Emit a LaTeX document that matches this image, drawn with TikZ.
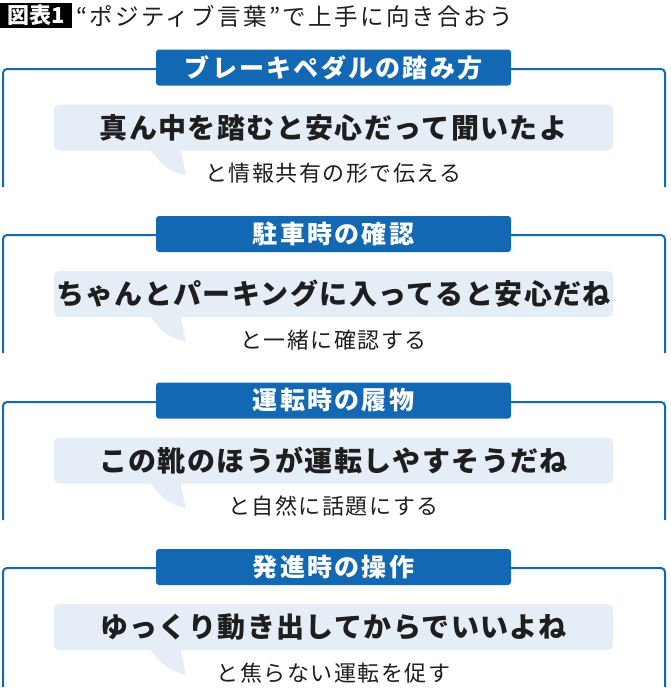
\documentclass[tikz,border=0pt]{standalone}
\usepackage{fontspec}
\setmainfont{Noto Sans CJK JP}
\usetikzlibrary{calc}
\definecolor{hdblue}{RGB}{18,104,178}
\definecolor{bbfill}{RGB}{229,237,246}
\definecolor{ink}{RGB}{30,30,30}
\tikzset{
  hdbox/.style={fill=hdblue, text=white, rounded corners=3pt, inner sep=0pt,
    minimum width=355pt, minimum height=36pt,
    font=\fontsize{25}{25}\selectfont\bfseries\addfontfeature{LetterSpace=9}},
  bubble/.style={fill=bbfill, text=ink, rounded corners=5pt, inner sep=0pt,
    minimum width=559pt, minimum height=46pt,
    font=\fontsize{28}{28}\selectfont\bfseries\addfontfeature{LetterSpace=5}},
  note/.style={text=ink, inner sep=0pt,
    font=\fontsize{22}{22}\selectfont\addfontfeature{LetterSpace=7}},
  brk/.style={draw=hdblue, line width=2pt, rounded corners=4pt},
  tail/.style={fill=bbfill}
}
\begin{document}
\begin{tikzpicture}[x=1pt,y=-1pt]
  \useasboundingbox (0,0) rectangle (670,699);
  \node[fill=black, text=white, inner sep=0pt, minimum width=72pt, minimum height=25pt,
    font=\fontsize{22}{22}\selectfont\bfseries] (fig) at (36,15.5) {図表1};
  \node[anchor=west, inner sep=0pt, text=ink,
    font=\fontsize{23.5}{23.5}\selectfont\addfontfeature{LetterSpace=10}] (ttl) at (76,16)
    {“ポジティブ言葉”で上手に向き合おう};

  \coordinate (bl1) at (3,187);
  \coordinate (br1) at (665,187);
  \draw[brk] (333.5,69) -| (bl1);
  \draw[brk] (333.5,69) -| (br1);
  \node[hdbox] (hd1) at (333.5,67.5) {ブレーキペダルの踏み方};
  \node[bubble] (bb1) at (333.5,127.5) {真ん中を踏むと安心だって聞いたよ};
  \fill[tail] ($(bb1.south west)+(96,-1)$) .. controls ($(bb1.south west)+(112,18)$)
    .. ($(bb1.south west)+(132,25)$) -- ($(bb1.south west)+(127,-1)$) -- cycle;
  \node[note] (nt1) at (333.5,173) {と情報共有の形で伝える};

  \coordinate (bl2) at (3,353);
  \coordinate (br2) at (665,353);
  \draw[brk] (333.5,235) -| (bl2);
  \draw[brk] (333.5,235) -| (br2);
  \node[hdbox] (hd2) at (333.5,234) {駐車時の確認};
  \node[bubble] (bb2) at (333.5,294) {ちゃんとパーキングに入ってると安心だね};
  \fill[tail] ($(bb2.south west)+(96,-1)$) .. controls ($(bb2.south west)+(112,18)$)
    .. ($(bb2.south west)+(132,25)$) -- ($(bb2.south west)+(127,-1)$) -- cycle;
  \node[note] (nt2) at (333.5,340) {と一緒に確認する};

  \coordinate (bl3) at (3,520);
  \coordinate (br3) at (665,520);
  \draw[brk] (333.5,402) -| (bl3);
  \draw[brk] (333.5,402) -| (br3);
  \node[hdbox] (hd3) at (333.5,400.5) {運転時の履物};
  \node[bubble] (bb3) at (333.5,460.5) {この靴のほうが運転しやすそうだね};
  \fill[tail] ($(bb3.south west)+(96,-1)$) .. controls ($(bb3.south west)+(112,18)$)
    .. ($(bb3.south west)+(132,25)$) -- ($(bb3.south west)+(127,-1)$) -- cycle;
  \node[note] (nt3) at (333.5,506.5) {と自然に話題にする};

  \coordinate (bl4) at (3,687);
  \coordinate (br4) at (665,687);
  \draw[brk] (333.5,568) -| (bl4);
  \draw[brk] (333.5,568) -| (br4);
  \node[hdbox] (hd4) at (333.5,567) {発進時の操作};
  \node[bubble] (bb4) at (333.5,627) {ゆっくり動き出してからでいいよね};
  \fill[tail] ($(bb4.south west)+(96,-1)$) .. controls ($(bb4.south west)+(112,18)$)
    .. ($(bb4.south west)+(132,25)$) -- ($(bb4.south west)+(127,-1)$) -- cycle;
  \node[note] (nt4) at (333.5,673) {と焦らない運転を促す};
\end{tikzpicture}
\end{document}
